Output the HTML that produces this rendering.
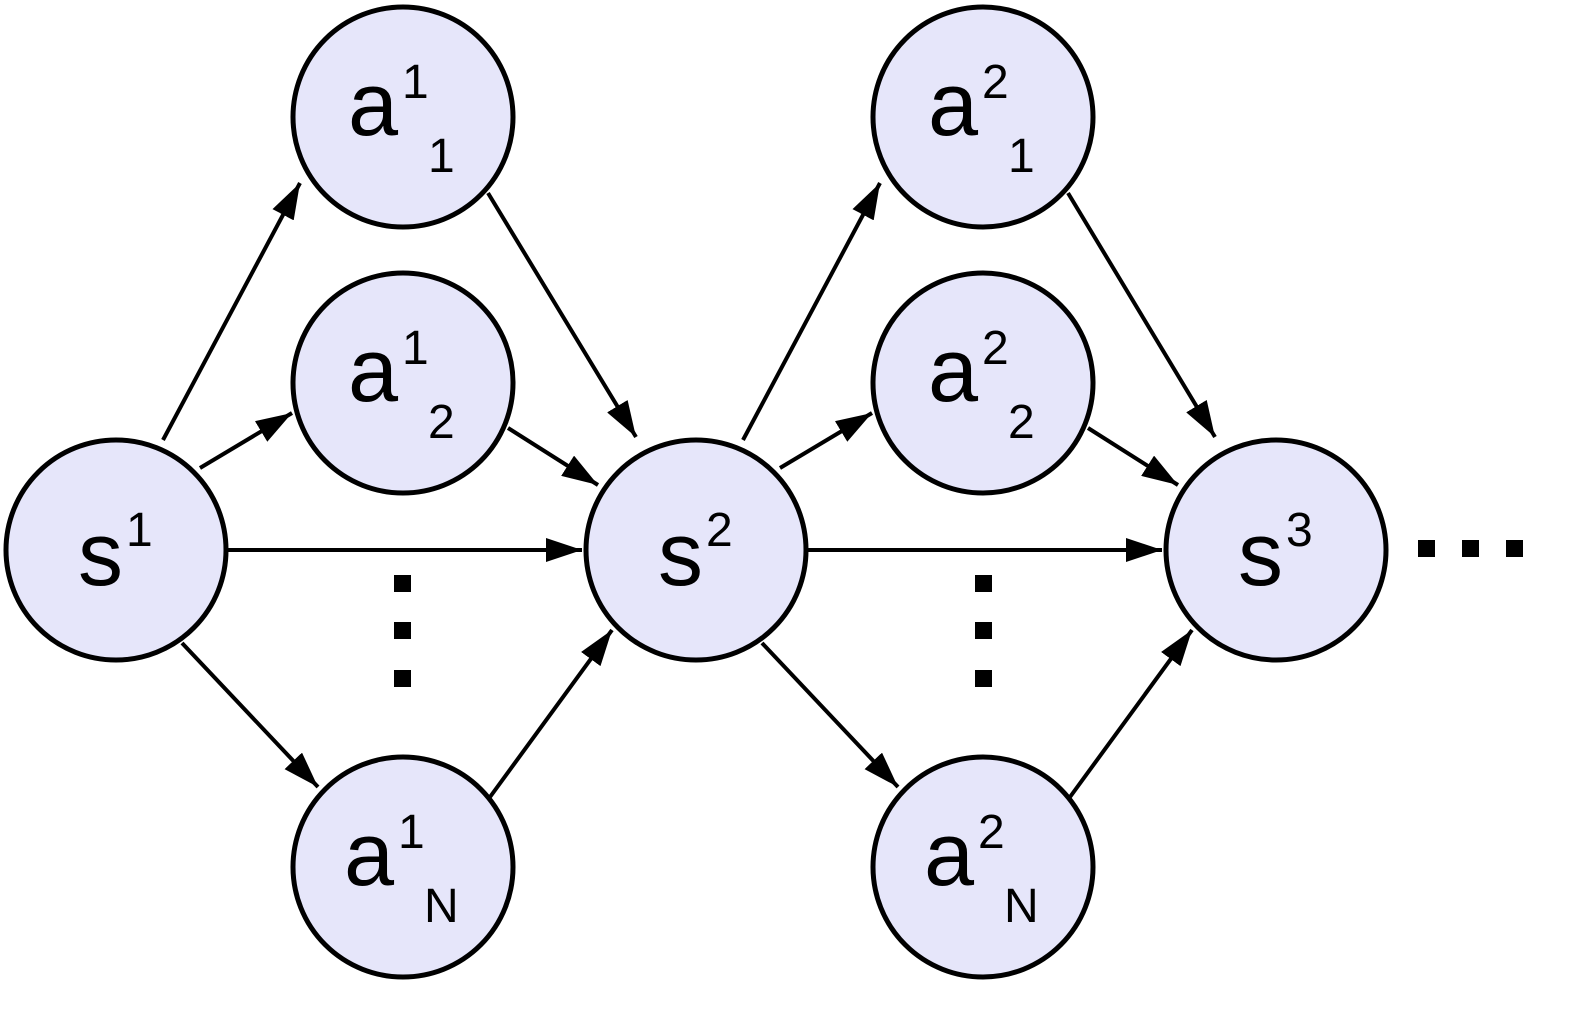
<!DOCTYPE html>
<html><head><meta charset="utf-8"><style>
html,body{margin:0;padding:0;background:#fff;}
svg{display:block;}
text{font-family:"Liberation Sans",sans-serif;fill:#000;}
</style></head><body>
<svg width="1582" height="1016" viewBox="0 0 1582 1016" xmlns="http://www.w3.org/2000/svg">
<defs>
<marker id="ar" markerWidth="10" markerHeight="8" refX="9.5" refY="4" orient="auto" markerUnits="userSpaceOnUse" viewBox="0 0 10 8" style="overflow:visible">
</marker>
<marker id="m" viewBox="0 0 36 24" refX="36" refY="12" markerWidth="36" markerHeight="24" markerUnits="userSpaceOnUse" orient="auto">
<path d="M0,0 L36,12 L0,24 Z" fill="#000"/>
</marker>
</defs>
<g stroke="#000" stroke-width="4" marker-end="url(#m)">
<line x1="163" y1="440" x2="300" y2="183"/>
<line x1="200" y1="468" x2="292" y2="413"/>
<line x1="228" y1="550" x2="582" y2="550"/>
<line x1="182" y1="643" x2="318" y2="787"/>
<line x1="488" y1="193" x2="636" y2="437"/>
<line x1="508" y1="428" x2="598" y2="485"/>
<line x1="490" y1="797" x2="612" y2="630"/>
<line x1="743" y1="440" x2="880" y2="183"/>
<line x1="780" y1="468" x2="872" y2="413"/>
<line x1="808" y1="550" x2="1162" y2="550"/>
<line x1="762" y1="643" x2="898" y2="787"/>
<line x1="1068" y1="193" x2="1215" y2="437"/>
<line x1="1088" y1="428" x2="1178" y2="485"/>
<line x1="1070" y1="797" x2="1192" y2="630"/>
</g>
<g fill="#e6e6fa" stroke="#000" stroke-width="5">
<circle cx="116" cy="550" r="110"/>
<circle cx="696" cy="550" r="110"/>
<circle cx="1276" cy="550" r="110"/>
<circle cx="403" cy="117" r="110"/>
<circle cx="403" cy="383" r="110"/>
<circle cx="403" cy="867" r="110"/>
<circle cx="983" cy="117" r="110"/>
<circle cx="983" cy="383" r="110"/>
<circle cx="983" cy="867" r="110"/>
</g>
<g fill="#000">
<rect x="394" y="575" width="17" height="17"/><rect x="394" y="622" width="17" height="17"/><rect x="394" y="670" width="17" height="17"/>
<rect x="975" y="575" width="17" height="17"/><rect x="975" y="622" width="17" height="17"/><rect x="975" y="670" width="17" height="17"/>
<rect x="1418" y="540" width="17" height="17"/><rect x="1462" y="540" width="17" height="17"/><rect x="1506" y="540" width="17" height="17"/>
</g>
<g font-size="90">
<text x="78" y="585">s</text><text x="126" y="546" font-size="48">1</text>
<text x="658" y="585">s</text><text x="706" y="546" font-size="48">2</text>
<text x="1238" y="585">s</text><text x="1286" y="546" font-size="48">3</text>

<text x="348" y="135">a</text><text x="402" y="98" font-size="48">1</text><text x="428" y="172" font-size="48">1</text>
<text x="348" y="401">a</text><text x="402" y="364" font-size="48">1</text><text x="428" y="438" font-size="48">2</text>
<text x="344" y="885">a</text><text x="398" y="848" font-size="48">1</text><text x="424" y="922" font-size="48">N</text>
<text x="928" y="135">a</text><text x="982" y="98" font-size="48">2</text><text x="1008" y="172" font-size="48">1</text>
<text x="928" y="401">a</text><text x="982" y="364" font-size="48">2</text><text x="1008" y="438" font-size="48">2</text>
<text x="924" y="885">a</text><text x="978" y="848" font-size="48">2</text><text x="1004" y="922" font-size="48">N</text>
</g>
</svg>
</body></html>
